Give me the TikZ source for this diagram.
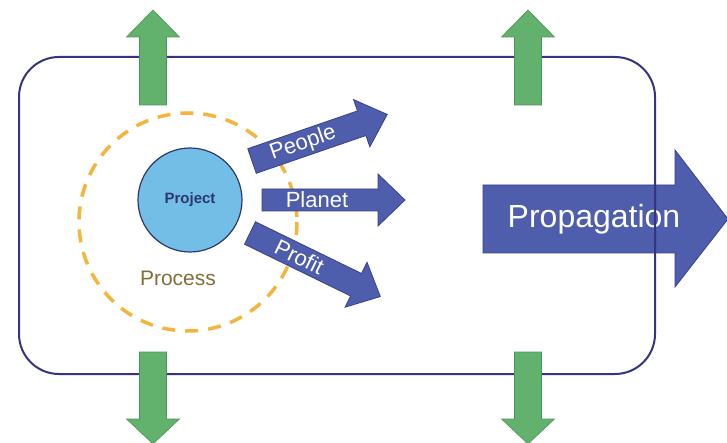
\documentclass[tikz,border=0pt]{standalone}
\usepackage{fontspec}
\setmainfont{Liberation Sans}
\definecolor{arrowblue}{RGB}{78,93,172}
\definecolor{arrowedge}{RGB}{55,66,140}
\definecolor{framec}{RGB}{52,52,130}
\definecolor{arrowgreen}{RGB}{98,178,110}
\definecolor{greenedge}{RGB}{72,150,88}
\definecolor{projblue}{RGB}{115,190,230}
\definecolor{projtext}{RGB}{45,55,110}
\definecolor{dashorange}{RGB}{245,180,60}
\definecolor{proctext}{RGB}{130,110,55}
\begin{document}
\begin{tikzpicture}[x=1pt,y=-1pt,
  bluearrow/.style={fill=arrowblue, draw=arrowedge, line width=0.8pt, line join=miter},
  greenarrow/.style={fill=arrowgreen, draw=greenedge, line width=0.6pt},
  lbl/.style={text=white, font=\fontsize{22}{24}\selectfont, inner sep=0pt}]
\useasboundingbox (0,0) rectangle (727,443);
\fill[white] (0,0) rectangle (727,443);
% propagation arrow
\draw[bluearrow] (483,185) -- (675,185) -- (675,150) -- (728,219) -- (675,287) -- (675,253) -- (483,253) -- cycle;
\node[lbl, font=\fontsize{32}{34}\selectfont] (prop) at (594,219) {Propagation};
% frame
\draw[framec, line width=2pt, rounded corners=40pt] (19,57) rectangle (655,374);
% green arrows
\foreach \x in {153,528} {
  \draw[greenarrow] (\x-13.5,105) -- (\x-13.5,37) -- (\x-26.5,37) -- (\x,10) -- (\x+26.5,37) -- (\x+13.5,37) -- (\x+13.5,105) -- cycle;
  \draw[greenarrow] (\x-13.5,352) -- (\x-13.5,419) -- (\x-26.5,419) -- (\x,444) -- (\x+26.5,419) -- (\x+13.5,419) -- (\x+13.5,352) -- cycle;
}
% process circle
\draw[dashorange, line width=3.5pt, dash pattern=on 13pt off 10pt] (188,222) circle[radius=109];
\node[text=proctext, font=\fontsize{21}{23}\selectfont, inner sep=0pt] (process) at (178,278) {Process};
% people
\begin{scope}[shift={(252,161)}, rotate=19]
  \draw[bluearrow] (0,-13) -- (116,-13) -- (116,-25) -- (143,0) -- (116,25) -- (116,13) -- (0,13) -- cycle;
  \node[lbl, rotate=19] (people) at (54,0) {People};
\end{scope}
% planet
\draw[bluearrow] (262,189) -- (378,189) -- (378,174) -- (405,200) -- (378,226) -- (378,211) -- (262,211) -- cycle;
\node[lbl] (planet) at (317,200) {Planet};
% profit
\begin{scope}[shift={(250,233)}, rotate=-26]
  \draw[bluearrow] (0,-12.5) -- (118,-12.5) -- (118,-25) -- (145,0) -- (118,25) -- (118,12.5) -- (0,12.5) -- cycle;
  \node[lbl, rotate=-26] (profit) at (55,0) {Profit};
\end{scope}
% project
\node[circle, fill=projblue, draw=projtext, line width=1.2pt, minimum size=104pt, inner sep=0pt,
      text=projtext, font=\bfseries\fontsize{15}{17}\selectfont] (project) at (190,200) {Project};
\end{tikzpicture}
\end{document}
